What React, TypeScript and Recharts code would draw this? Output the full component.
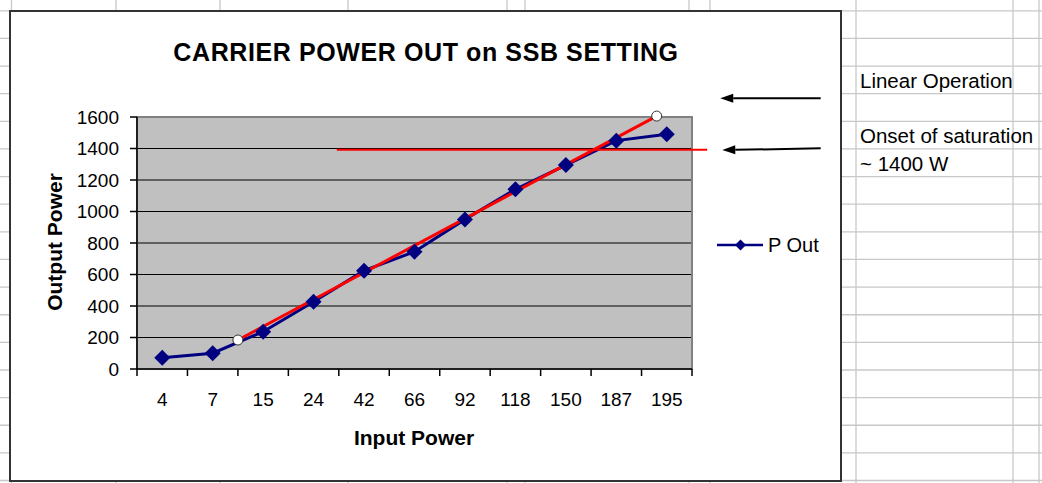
import React from "react";
import {
  ComposedChart,
  Line,
  XAxis,
  YAxis,
  CartesianGrid,
  ReferenceLine,
  ReferenceDot,
  ReferenceArea,
  Legend,
} from "recharts";

// values
const inputPower = ["4", "7", "15", "24", "42", "66", "92", "118", "150", "187", "195"];
const pOut = [72, 100, 237, 427, 624, 745, 950, 1141, 1295, 1450, 1490];
const yTicks = [0, 200, 400, 600, 800, 1000, 1200, 1400, 1600];

// hand-drawn annotations, in data units (x = category slot, y = watts)
const linearFit = [{ x: 2, y: 184 }, { x: 10.3, y: 1606 }];
const saturationLine = [{ x: 3.96, y: 1392 }, { x: 11.3, y: 1392 }];
const arrowTail = [{ x: 13.55, y: 1719 }, { x: 13.55, y: 1401 }];
const arrowHead = [{ x: 11.56, y: 1719 }, { x: 11.6, y: 1390 }];
const notes = ["Linear Operation", "Onset of saturation", "~ 1400 W"];

const W = 1042;
const H = 483;
const PLOT_LEFT = 137;
const PLOT_RIGHT = 692;
const PLOT_TOP = 117;
const PLOT_BOTTOM = 369;
const BAND = (PLOT_RIGHT - PLOT_LEFT) / inputPower.length;
const FONT = '"Liberation Sans", Arial, sans-serif';

const data = pOut.map((v, i) => ({ slot: i + 0.5, label: inputPower[i], pOut: v }));
const slotTicks = inputPower.map((_, i) => i).concat(inputPower.length);

// sheet gridlines behind the chart object
const sheetCols = [11.5, 116, 220, 348, 507, 525, 689, 710, 856, 1013, 1039];
const ROW_START = 10.8;
const ROW_STEP = 27.63;

function CategoryTick(props: any) {
  const { x, y, payload } = props;
  const i = payload.value;
  if (i >= inputPower.length) return <g />;
  return (
    <text x={x + BAND / 2} y={y} dy="0.71em" textAnchor="middle" fontSize={19} fill="#000">
      {inputPower[i]}
    </text>
  );
}

function Diamond(props: any) {
  const { cx, cy } = props;
  if (cx == null || cy == null) return <g />;
  const r = 8;
  return <path d={`M${cx},${cy - r}L${cx + r},${cy}L${cx},${cy + r}L${cx - r},${cy}Z`} fill="#000080" />;
}

function arrowShape(p: any) {
  const { x1, y1, x2, y2 } = p;
  const dx = x2 - x1;
  const dy = y2 - y1;
  const len = Math.hypot(dx, dy) || 1;
  const ux = dx / len;
  const uy = dy / len;
  const bx = x2 - ux * 13;
  const by = y2 - uy * 13;
  const w = 4.5;
  return (
    <g>
      <line x1={x1} y1={y1} x2={bx} y2={by} stroke="#000" strokeWidth={2} />
      <polygon points={`${x2},${y2} ${bx - uy * w},${by + ux * w} ${bx + uy * w},${by - ux * w}`} fill="#000" />
    </g>
  );
}

function LegendBox() {
  return (
    <svg width={130} height={30} style={{ overflow: "visible" }}>
      <line x1={5} y1={13} x2={51} y2={13} stroke="#000080" strokeWidth={2.5} />
      <path d="M28.5,7.5L34,13L28.5,18.5L23,13Z" fill="#000080" />
      <text x={56} y={19.7} fontSize={20} fill="#000" fontFamily={FONT}>
        P Out
      </text>
    </svg>
  );
}

function SheetGrid() {
  const rows: number[] = [];
  for (let k = 0; ROW_START + k * ROW_STEP < H; k++) rows.push(ROW_START + k * ROW_STEP);
  return (
    <svg width={W} height={H} style={{ position: "absolute", left: 0, top: 0 }}>
      {rows.map((y) => (
        <line key={"r" + y} x1={0} x2={W} y1={y} y2={y} stroke="#c8c8c8" strokeWidth={1.3} />
      ))}
      {sheetCols.map((x) => (
        <line key={"c" + x} x1={x} x2={x} y1={0} y2={H} stroke="#c8c8c8" strokeWidth={1.3} />
      ))}
    </svg>
  );
}

export default function App() {
  return (
    <div
      style={{
        position: "absolute",
        left: 0,
        top: 0,
        width: W,
        height: H,
        overflow: "hidden",
        background: "#fff",
        fontFamily: FONT,
      }}
    >
      <SheetGrid />
      <div
        style={{
          position: "absolute",
          left: 9,
          top: 10,
          width: 833,
          height: 472,
          border: "2px solid #333",
          boxSizing: "border-box",
          background: "#fff",
        }}
      />
      <div style={{ position: "absolute", left: 0, top: 0 }}>
        <ComposedChart
          width={W}
          height={H}
          data={data}
          margin={{ top: PLOT_TOP, right: W - PLOT_RIGHT, bottom: H - PLOT_BOTTOM - 30, left: 0 }}
          style={{ fontFamily: FONT }}
        >
          <CartesianGrid vertical={false} stroke="#000" strokeWidth={1} fill="#c0c0c0" fillOpacity={1} />
          <ReferenceArea x1={0} x2={11} y1={0} y2={1600} fill="none" stroke="#808080" strokeWidth={2} ifOverflow="visible" />
          <XAxis
            dataKey="slot"
            type="number"
            domain={[0, inputPower.length]}
            ticks={slotTicks}
            interval={0}
            height={30}
            tickSize={7}
            tickMargin={17}
            tick={<CategoryTick />}
            axisLine={{ stroke: "#000", strokeWidth: 1.5 }}
            tickLine={{ stroke: "#000", strokeWidth: 1.5 }}
          />
          <YAxis
            domain={[0, 1600]}
            ticks={yTicks}
            interval={0}
            width={PLOT_LEFT}
            tickSize={7}
            tickMargin={11}
            tick={{ fontSize: 19, fill: "#000" }}
            axisLine={{ stroke: "#000", strokeWidth: 1.5 }}
            tickLine={{ stroke: "#000", strokeWidth: 1.5 }}
          />
          <Legend
            layout="horizontal"
            verticalAlign="middle"
            align="center"
            width={130}
            height={30}
            wrapperStyle={{ left: 712, top: 232, width: 130, height: 30 }}
            content={() => <LegendBox />}
          />
          <Line
            dataKey="pOut"
            name="P Out"
            stroke="#000080"
            strokeWidth={3}
            dot={<Diamond />}
            activeDot={false}
            isAnimationActive={false}
          />
          <ReferenceLine segment={saturationLine} stroke="#ff0000" strokeWidth={2} ifOverflow="visible" />
          <ReferenceLine segment={linearFit} stroke="#ff0000" strokeWidth={3} ifOverflow="visible" />
          <ReferenceDot x={linearFit[0].x} y={linearFit[0].y} r={5} fill="#fff" stroke="#333" strokeWidth={1} ifOverflow="visible" />
          <ReferenceDot x={linearFit[1].x} y={linearFit[1].y} r={5} fill="#fff" stroke="#333" strokeWidth={1} ifOverflow="visible" />
          {arrowTail.map((t, i) => (
            <ReferenceLine key={"a" + i} segment={[t, arrowHead[i]]} ifOverflow="visible" shape={arrowShape} />
          ))}
        </ComposedChart>
      </div>
      <svg width={W} height={H} style={{ position: "absolute", left: 0, top: 0, pointerEvents: "none" }} fontFamily={FONT}>
        <text x={426} y={60.5} textAnchor="middle" fontSize={25} fontWeight="bold" letterSpacing={0.6} fill="#000">
          CARRIER POWER OUT on SSB SETTING
        </text>
        <text transform="translate(61.5,242) rotate(-90)" textAnchor="middle" fontSize={21} fontWeight="bold" fill="#000">
          Output Power
        </text>
        <text x={414} y={445} textAnchor="middle" fontSize={21} fontWeight="bold" fill="#000">
          Input Power
        </text>
        <text x={860} y={88} fontSize={20.5} fill="#000">
          {notes[0]}
        </text>
        <text x={860} y={143.3} fontSize={20.5} fill="#000">
          {notes[1]}
        </text>
        <text x={860} y={170.7} fontSize={20.5} fill="#000">
          {notes[2]}
        </text>
      </svg>
    </div>
  );
}
